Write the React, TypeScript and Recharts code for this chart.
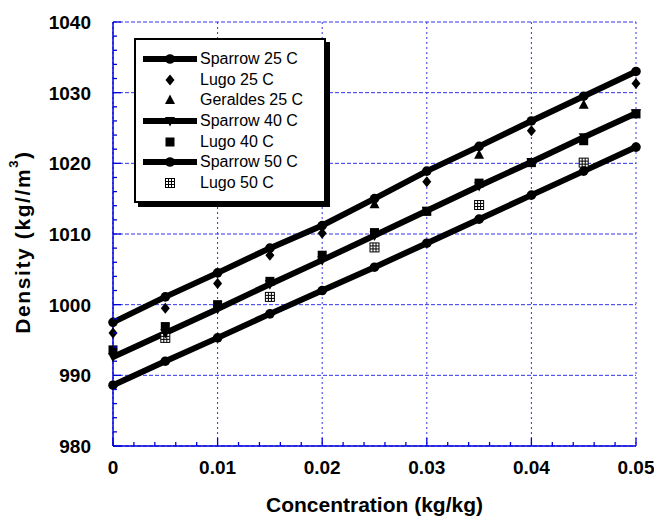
import React from "react";
import {
  ComposedChart,
  Line,
  Scatter,
  XAxis,
  YAxis,
  CartesianGrid,
  Label,
} from "recharts";

// concentration (kg/kg) where the correlation curves are sampled
const conc = [0, 0.005, 0.01, 0.015, 0.02, 0.025, 0.03, 0.035, 0.04, 0.045, 0.05];
const sparrow25 = [997.5, 1001.1, 1004.5, 1008.0, 1011.2, 1015.0, 1018.9, 1022.4, 1026.0, 1029.5, 1033.0];
const sparrow40 = [992.6, 996.0, 999.4, 1002.9, 1006.3, 1009.8, 1013.3, 1016.8, 1020.2, 1023.7, 1027.1];
const sparrow50 = [988.6, 992.0, 995.3, 998.7, 1002.0, 1005.3, 1008.7, 1012.1, 1015.5, 1018.9, 1022.3];

// measured points
const lugo25X = [0, 0.005, 0.01, 0.015, 0.02, 0.03, 0.04, 0.05];
const lugo25 = [996.0, 999.5, 1003.0, 1007.0, 1010.1, 1017.4, 1024.6, 1031.3];
const geraldes25X = [0.025, 0.035, 0.045];
const geraldes25 = [1014.2, 1021.2, 1028.3];
const lugo40X = [0, 0.005, 0.01, 0.015, 0.02, 0.025, 0.03, 0.035, 0.04, 0.045, 0.05];
const lugo40 = [993.6, 996.9, 1000.0, 1003.3, 1007.0, 1010.2, 1013.2, 1017.2, 1020.1, 1023.2, 1027.0];
const lugo50X = [0.005, 0.015, 0.025, 0.035, 0.045];
const lugo50 = [995.3, 1001.1, 1008.1, 1014.1, 1020.1];

// ticks
const xMajor = [0, 0.01, 0.02, 0.03, 0.04, 0.05];
const xMinor = [
  0, 0.002, 0.004, 0.006, 0.008, 0.01, 0.012, 0.014, 0.016, 0.018, 0.02, 0.022, 0.024,
  0.026, 0.028, 0.03, 0.032, 0.034, 0.036, 0.038, 0.04, 0.042, 0.044, 0.046, 0.048, 0.05,
];
const xLabels = ["0", "0.01", "0.02", "0.03", "0.04", "0.05"];
const yMajor = [980, 990, 1000, 1010, 1020, 1030, 1040];
const yMinor = [
  980, 982, 984, 986, 988, 990, 992, 994, 996, 998, 1000, 1002, 1004, 1006, 1008, 1010,
  1012, 1014, 1016, 1018, 1020, 1022, 1024, 1026, 1028, 1030, 1032, 1034, 1036, 1038, 1040,
];

const pts = (xs: number[], ys: number[]) => xs.map((x, i) => ({ x, y: ys[i] }));

const FONT = '"Liberation Sans", Arial, sans-serif';
const AXIS = "#0000dd";
const GRID = "#3333ee";

type Kind = "circle" | "diamond" | "triangle" | "down" | "square" | "grid";

function Marker({ kind, cx, cy }: { kind: Kind; cx: number; cy: number }) {
  if (cx == null || cy == null) return null;
  switch (kind) {
    case "circle":
      return <circle cx={cx} cy={cy} r={4.8} fill="#000" />;
    case "diamond":
      return (
        <polygon
          points={`${cx},${cy - 5.5} ${cx + 4.5},${cy} ${cx},${cy + 5.5} ${cx - 4.5},${cy}`}
          fill="#000"
        />
      );
    case "triangle":
      return (
        <polygon points={`${cx},${cy - 5.5} ${cx + 5},${cy + 4} ${cx - 5},${cy + 4}`} fill="#000" />
      );
    case "down":
      return (
        <polygon points={`${cx - 5},${cy - 4} ${cx + 5},${cy - 4} ${cx},${cy + 5.5}`} fill="#000" />
      );
    case "square":
      return <rect x={cx - 4.5} y={cy - 4.5} width={9} height={9} fill="#000" />;
    case "grid":
      return (
        <g stroke="#000" strokeWidth={1}>
          <rect x={cx - 4.5} y={cy - 4.5} width={9} height={9} fill="#fff" />
          <line x1={cx - 1.5} x2={cx - 1.5} y1={cy - 4.5} y2={cy + 4.5} />
          <line x1={cx + 1.5} x2={cx + 1.5} y1={cy - 4.5} y2={cy + 4.5} />
          <line x1={cx - 4.5} x2={cx + 4.5} y1={cy - 1.5} y2={cy - 1.5} />
          <line x1={cx - 4.5} x2={cx + 4.5} y1={cy + 1.5} y2={cy + 1.5} />
        </g>
      );
  }
  return null;
}

const near = (v: number, list: number[]) => list.findIndex((m) => Math.abs(m - v) < 1e-9);

const BOTTOM_MARGIN = 14;
const LEFT_MARGIN = 22;

function BottomTick(props: any) {
  const { x, y, payload } = props;
  const i = near(payload.value, xMajor);
  const axisY = y - BOTTOM_MARGIN;
  return (
    <g>
      <line x1={x} x2={x} y1={axisY} y2={axisY - (i >= 0 ? 8 : 4)} stroke={AXIS} strokeWidth={1.3} />
      {i >= 0 && (
        <text x={x} y={axisY + 28} textAnchor="middle" fontFamily={FONT} fontSize={19} fontWeight="bold" fill="#000">
          {xLabels[i]}
        </text>
      )}
    </g>
  );
}

function TopTick(props: any) {
  const { x, y, payload } = props;
  const major = near(payload.value, xMajor) >= 0;
  return <line x1={x} x2={x} y1={y} y2={y + (major ? 8 : 4)} stroke={AXIS} strokeWidth={1.3} />;
}

function LeftTick(props: any) {
  const { x, y, payload } = props;
  const major = near(payload.value, yMajor) >= 0;
  const axisX = x + LEFT_MARGIN;
  return (
    <g>
      <line x1={axisX} x2={axisX + (major ? 8 : 4)} y1={y} y2={y} stroke={AXIS} strokeWidth={1.3} />
      {major && (
        <text x={x} y={y} dy="0.36em" textAnchor="end" fontFamily={FONT} fontSize={19} fontWeight="bold" fill="#000">
          {payload.value}
        </text>
      )}
    </g>
  );
}

function RightTick(props: any) {
  const { x, y, payload } = props;
  const major = near(payload.value, yMajor) >= 0;
  return <line x1={x} x2={x - (major ? 8 : 4)} y1={y} y2={y} stroke={AXIS} strokeWidth={1.3} />;
}

const legendItems: { name: string; kind: Kind; line: boolean }[] = [
  { name: "Sparrow 25 C", kind: "circle", line: true },
  { name: "Lugo 25 C", kind: "diamond", line: false },
  { name: "Geraldes 25 C", kind: "triangle", line: false },
  { name: "Sparrow 40 C", kind: "down", line: true },
  { name: "Lugo 40 C", kind: "square", line: false },
  { name: "Sparrow 50 C", kind: "circle", line: true },
  { name: "Lugo 50 C", kind: "grid", line: false },
];

function LegendBox() {
  return (
    <div
      style={{
        position: "absolute",
        left: 134,
        top: 38,
        width: 188,
        height: 152,
        border: "2px solid #000",
        background: "#fff",
        boxShadow: "4px 4px 0 #000",
        fontFamily: FONT,
        fontSize: 16,
        paddingTop: 9,
        boxSizing: "content-box",
      }}
    >
      {legendItems.map((it) => (
        <div key={it.name} style={{ display: "flex", alignItems: "center", height: 20.6 }}>
          <svg width={64} height={20} style={{ flex: "none" }}>
            {it.line && <line x1={7} x2={61} y1={10} y2={10} stroke="#000" strokeWidth={6} />}
            <Marker kind={it.kind} cx={34} cy={10} />
          </svg>
          <span style={{ lineHeight: "20px" }}>{it.name}</span>
        </div>
      ))}
    </div>
  );
}

export default function App() {
  return (
    <div style={{ position: "absolute", left: 0, top: 0, width: 654, height: 517, background: "#fff" }}>
      <ComposedChart width={654} height={517} margin={{ top: 22, right: 18, bottom: 0, left: 0 }}>
        <CartesianGrid
          horizontal={false}
          verticalValues={xMajor}
          stroke={GRID}
          strokeDasharray="2 3"
        />
        <CartesianGrid
          vertical={false}
          horizontalValues={yMajor}
          stroke={GRID}
          strokeDasharray="4 2"
        />
        <XAxis
          type="number"
          dataKey="x"
          domain={[0, 0.05]}
          ticks={xMinor}
          interval={0}
          height={71}
          tickSize={0}
          tickMargin={BOTTOM_MARGIN}
          tick={<BottomTick />}
          axisLine={{ stroke: AXIS, strokeWidth: 1.5 }}
        >
          <Label
            value="Concentration (kg/kg)"
            position="insideBottom"
            offset={5}
            fill="#000"
            fontFamily={FONT}
            fontSize={21}
            fontWeight="bold"
          />
        </XAxis>
        <XAxis
          xAxisId="top"
          orientation="top"
          type="number"
          dataKey="x"
          domain={[0, 0.05]}
          ticks={xMinor}
          interval={0}
          height={0}
          tickSize={0}
          tickMargin={0}
          tick={<TopTick />}
          axisLine={{ stroke: AXIS, strokeWidth: 1.5 }}
        />
        <YAxis
          type="number"
          domain={[980, 1040]}
          ticks={yMinor}
          interval={0}
          width={113}
          tickSize={0}
          tickMargin={LEFT_MARGIN}
          tick={<LeftTick />}
          axisLine={{ stroke: AXIS, strokeWidth: 1.5 }}
        >
          <Label
            content={({ viewBox }: any) => {
              const cx = viewBox.x + 22;
              const cy = viewBox.y + viewBox.height / 2 + 8;
              return (
                <text
                  x={cx}
                  y={cy}
                  transform={`rotate(-90 ${cx} ${cy})`}
                  textAnchor="middle"
                  dominantBaseline="central"
                  fontFamily={FONT}
                  fontSize={21}
                  fontWeight="bold"
                  letterSpacing={1.6}
                  fill="#000"
                >
                  Density (kg//m
                  <tspan dy={-9} fontSize={13}>3</tspan>
                  <tspan dy={9}>)</tspan>
                </text>
              );
            }}
          />
        </YAxis>
        <YAxis
          yAxisId="right"
          orientation="right"
          type="number"
          domain={[980, 1040]}
          ticks={yMinor}
          interval={0}
          width={0}
          tickSize={0}
          tickMargin={0}
          tick={<RightTick />}
          axisLine={{ stroke: AXIS, strokeWidth: 1.5 }}
        />

        <Scatter
          name="Lugo 25 C"
          data={pts(lugo25X, lugo25)}
          dataKey="y"
          isAnimationActive={false}
          shape={(p: any) => <Marker kind="diamond" cx={p.cx} cy={p.cy} />}
        />
        <Scatter
          name="Geraldes 25 C"
          data={pts(geraldes25X, geraldes25)}
          dataKey="y"
          isAnimationActive={false}
          shape={(p: any) => <Marker kind="triangle" cx={p.cx} cy={p.cy} />}
        />
        <Scatter
          name="Lugo 40 C"
          data={pts(lugo40X, lugo40)}
          dataKey="y"
          isAnimationActive={false}
          shape={(p: any) => <Marker kind="square" cx={p.cx} cy={p.cy} />}
        />
        <Scatter
          name="Lugo 50 C"
          data={pts(lugo50X, lugo50)}
          dataKey="y"
          isAnimationActive={false}
          shape={(p: any) => <Marker kind="grid" cx={p.cx} cy={p.cy} />}
        />

        <Line
          name="Sparrow 25 C"
          data={pts(conc, sparrow25)}
          dataKey="y"
          type="linear"
          stroke="#000"
          strokeWidth={6}
          activeDot={false}
          isAnimationActive={false}
          dot={(p: any) => <Marker key={p.index} kind="circle" cx={p.cx} cy={p.cy} />}
        />
        <Line
          name="Sparrow 40 C"
          data={pts(conc, sparrow40)}
          dataKey="y"
          type="linear"
          stroke="#000"
          strokeWidth={6}
          activeDot={false}
          isAnimationActive={false}
          dot={(p: any) => <Marker key={p.index} kind="down" cx={p.cx} cy={p.cy} />}
        />
        <Line
          name="Sparrow 50 C"
          data={pts(conc, sparrow50)}
          dataKey="y"
          type="linear"
          stroke="#000"
          strokeWidth={6}
          activeDot={false}
          isAnimationActive={false}
          dot={(p: any) => <Marker key={p.index} kind="circle" cx={p.cx} cy={p.cy} />}
        />
      </ComposedChart>
      <LegendBox />
    </div>
  );
}
